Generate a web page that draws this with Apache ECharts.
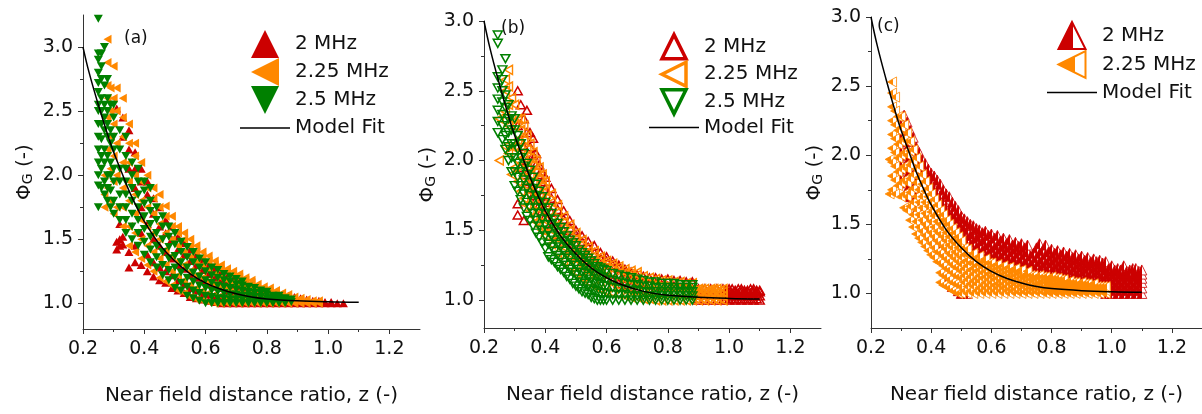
<!DOCTYPE html>
<html>
<head>
<meta charset="utf-8">
<script src="https://cdn.jsdelivr.net/npm/echarts@6/dist/echarts.min.js"></script>
<style>
html, body { margin: 0; background: #fff; }
#main { width: 1202px; height: 414px; }
</style>
</head>
<body>
<div id="main"></div>
<script>
// model fit curve
var zFit = [0.2, 0.22, 0.25, 0.28, 0.3, 0.33, 0.35, 0.38, 0.4, 0.45, 0.5, 0.55, 0.6, 0.65, 0.7, 0.75, 0.8, 0.9, 1.0, 1.1];
var phiFit = [3.0, 2.8, 2.55, 2.32, 2.18, 2.0, 1.88, 1.73, 1.64, 1.46, 1.33, 1.23, 1.16, 1.11, 1.075, 1.05, 1.035, 1.02, 1.012, 1.008];

var xTicks = [0.2, 0.4, 0.6, 0.8, 1.0, 1.2];
var xMinor = [0.3, 0.5, 0.7, 0.9, 1.1];
var yTicks = [1.0, 1.5, 2.0, 2.5, 3.0];
var yMinor = [1.25, 1.75, 2.25, 2.75];

// each series: columns of [z, [phi values]]
// panel (a)
var aRed = [
  [0.31, [1.42, 1.48, 2.52]], [0.32, [1.45, 1.5, 1.62]], [0.33, [1.46, 1.52, 2.3, 2.45]],
  [0.35, [1.28, 1.4, 2.05, 2.2, 2.35]], [0.37, [1.32, 1.45, 1.9, 2.05, 2.18]],
  [0.39, [1.3, 1.55, 1.75, 1.95, 2.05]], [0.41, [1.25, 1.38, 1.62, 1.85, 1.95]],
  [0.43, [1.21, 1.32, 1.5, 1.7, 1.82]], [0.45, [1.18, 1.28, 1.45, 1.6, 1.75]],
  [0.47, [1.16, 1.25, 1.4, 1.55, 1.65]], [0.49, [1.12, 1.22, 1.35, 1.5, 1.6]],
  [0.51, [1.1, 1.18, 1.3, 1.42, 1.52]], [0.53, [1.08, 1.15, 1.27, 1.38, 1.47]],
  [0.55, [1.05, 1.12, 1.22, 1.33, 1.42]], [0.57, [1.04, 1.1, 1.2, 1.3, 1.38]],
  [0.59, [1.03, 1.08, 1.18, 1.26, 1.34]], [0.61, [1.02, 1.07, 1.15, 1.23, 1.3]],
  [0.63, [1.01, 1.06, 1.13, 1.2, 1.27]], [0.65, [1.0, 1.05, 1.12, 1.18, 1.24]],
  [0.67, [1.0, 1.05, 1.1, 1.16, 1.21]], [0.69, [1.0, 1.04, 1.09, 1.14, 1.19]],
  [0.71, [1.0, 1.04, 1.08, 1.13, 1.17]], [0.73, [1.0, 1.03, 1.07, 1.12, 1.15]],
  [0.75, [1.0, 1.03, 1.07, 1.11, 1.14]], [0.77, [1.0, 1.03, 1.06, 1.1, 1.12]],
  [0.79, [1.0, 1.03, 1.06, 1.09, 1.11]], [0.81, [1.0, 1.02, 1.05, 1.08, 1.1]],
  [0.83, [1.0, 1.02, 1.05, 1.08]], [0.85, [1.0, 1.02, 1.04, 1.07]], [0.87, [1.0, 1.02, 1.04, 1.06]],
  [0.89, [1.0, 1.02, 1.05]], [0.91, [1.0, 1.02, 1.04]], [0.93, [1.0, 1.02, 1.03]],
  [0.95, [1.0, 1.02]], [0.97, [1.0, 1.02]], [0.99, [1.0, 1.01]], [1.01, [1.0, 1.01]],
  [1.03, [1.0]], [1.05, [1.0]]
];
var aOrange = [
  [0.27, [1.75, 1.85, 2.0]], [0.28, [1.9, 2.2, 2.45, 2.6, 2.7, 2.88, 3.06]],
  [0.29, [1.8, 2.05, 2.3, 2.5, 2.68]], [0.30, [1.7, 1.95, 2.15, 2.4, 2.6, 2.85]],
  [0.31, [1.75, 2.0, 2.25, 2.5, 2.68]], [0.33, [1.6, 1.75, 1.9, 2.1, 2.3, 2.45, 2.6]],
  [0.35, [1.45, 1.6, 1.8, 1.95, 2.1, 2.25, 2.4]], [0.37, [1.4, 1.55, 1.7, 1.85, 2.0, 2.15, 2.25]],
  [0.39, [1.35, 1.5, 1.65, 1.8, 1.95, 2.1]], [0.41, [1.3, 1.45, 1.6, 1.75, 1.9, 2.0]],
  [0.43, [1.25, 1.4, 1.55, 1.7, 1.82, 1.9]], [0.45, [1.2, 1.35, 1.5, 1.62, 1.75, 1.85]],
  [0.47, [1.17, 1.3, 1.42, 1.55, 1.68, 1.76]], [0.49, [1.14, 1.25, 1.37, 1.5, 1.6, 1.68]],
  [0.51, [1.1, 1.22, 1.33, 1.45, 1.55, 1.6]], [0.53, [1.08, 1.18, 1.3, 1.4, 1.5, 1.55]],
  [0.55, [1.05, 1.15, 1.25, 1.36, 1.45, 1.5]], [0.57, [1.03, 1.12, 1.22, 1.32, 1.4, 1.45]],
  [0.59, [1.02, 1.1, 1.2, 1.3, 1.36, 1.4]], [0.61, [1.01, 1.08, 1.17, 1.26, 1.33, 1.37]],
  [0.63, [1.0, 1.07, 1.15, 1.23, 1.3, 1.33]], [0.65, [1.0, 1.06, 1.13, 1.2, 1.26, 1.3]],
  [0.67, [1.0, 1.05, 1.12, 1.18, 1.24, 1.27]], [0.69, [1.0, 1.05, 1.1, 1.16, 1.22, 1.25]],
  [0.71, [1.0, 1.04, 1.09, 1.15, 1.2, 1.23]], [0.73, [1.0, 1.04, 1.08, 1.13, 1.18, 1.2]],
  [0.75, [1.0, 1.04, 1.08, 1.12, 1.16, 1.18]], [0.77, [1.0, 1.03, 1.07, 1.11, 1.15]],
  [0.79, [1.0, 1.03, 1.06, 1.1, 1.13]], [0.81, [1.0, 1.03, 1.06, 1.09, 1.12]],
  [0.83, [1.0, 1.03, 1.05, 1.08, 1.1]], [0.85, [1.0, 1.02, 1.05, 1.08]],
  [0.87, [1.0, 1.02, 1.04, 1.07]], [0.89, [1.0, 1.02, 1.05]], [0.91, [1.0, 1.02, 1.04]],
  [0.93, [1.0, 1.03]], [0.95, [1.0, 1.02]], [0.97, [1.0, 1.02]]
];
var aGreen = [
  [0.25, [1.75, 1.92, 2.0, 2.1, 2.2, 2.3, 2.4, 2.5, 2.55, 2.65, 2.72, 2.8, 2.9, 2.95, 3.22]],
  [0.26, [1.9, 2.05, 2.15, 2.28, 2.4, 2.5, 2.6, 2.75, 2.85, 2.95]],
  [0.27, [1.85, 1.95, 2.1, 2.2, 2.35, 2.45, 2.55, 2.7, 3.0]],
  [0.28, [1.8, 1.9, 2.0, 2.15, 2.3, 2.4, 2.5, 2.6, 2.75]],
  [0.29, [1.75, 1.88, 2.0, 2.1, 2.25, 2.35, 2.55]],
  [0.30, [1.7, 1.8, 1.95, 2.05, 2.2, 2.3, 2.45, 2.55]],
  [0.32, [1.65, 1.75, 1.85, 1.95, 2.05, 2.2, 2.35]],
  [0.34, [1.55, 1.65, 1.75, 1.85, 1.95, 2.05, 2.15, 2.3]],
  [0.36, [1.5, 1.6, 1.7, 1.8, 1.9, 2.0, 2.1]],
  [0.38, [1.45, 1.55, 1.65, 1.75, 1.85, 1.95, 2.05]],
  [0.40, [1.38, 1.48, 1.58, 1.68, 1.78, 1.88, 1.95]],
  [0.42, [1.32, 1.42, 1.52, 1.62, 1.72, 1.8, 1.9]],
  [0.44, [1.28, 1.36, 1.45, 1.55, 1.65, 1.75]],
  [0.46, [1.22, 1.3, 1.4, 1.5, 1.6, 1.68]],
  [0.48, [1.18, 1.26, 1.35, 1.44, 1.52, 1.6]],
  [0.50, [1.12, 1.2, 1.28, 1.37, 1.46, 1.55]],
  [0.52, [1.1, 1.16, 1.24, 1.32, 1.4, 1.48]],
  [0.54, [1.06, 1.13, 1.2, 1.28, 1.36, 1.44]],
  [0.56, [1.04, 1.1, 1.17, 1.24, 1.32, 1.4]],
  [0.58, [1.02, 1.08, 1.14, 1.21, 1.28, 1.35]],
  [0.60, [1.0, 1.06, 1.12, 1.18, 1.25, 1.32]],
  [0.62, [1.0, 1.05, 1.1, 1.16, 1.22, 1.28]],
  [0.64, [1.0, 1.04, 1.09, 1.14, 1.2, 1.26]],
  [0.66, [1.0, 1.04, 1.08, 1.13, 1.18, 1.23]],
  [0.68, [1.0, 1.03, 1.07, 1.12, 1.17, 1.21]],
  [0.70, [1.0, 1.03, 1.07, 1.11, 1.15, 1.19]],
  [0.72, [1.0, 1.03, 1.06, 1.1, 1.14, 1.17]],
  [0.74, [1.0, 1.03, 1.06, 1.09, 1.13]], [0.76, [1.0, 1.02, 1.05, 1.08, 1.12]],
  [0.78, [1.0, 1.02, 1.05, 1.08, 1.1]], [0.80, [1.0, 1.02, 1.04, 1.07, 1.09]],
  [0.82, [1.0, 1.02, 1.04, 1.06]], [0.84, [1.0, 1.02, 1.04, 1.06]],
  [0.86, [1.0, 1.02, 1.04]], [0.88, [1.01, 1.03]]
];

// panel (b)
var bRed = [
  [0.31, [1.61, 1.69, 2.25, 2.5]], [0.32, [1.95, 2.15, 2.4]], [0.33, [1.57, 1.9, 2.1, 2.3]],
  [0.34, [1.85, 2.0, 2.2, 2.36]], [0.35, [1.8, 1.95, 2.1, 2.2]], [0.36, [1.75, 1.9, 2.04, 2.16]],
  [0.37, [1.72, 1.85, 1.97, 2.05]], [0.38, [1.68, 1.8, 1.9, 1.97]], [0.39, [1.64, 1.75, 1.85, 1.92]],
  [0.40, [1.6, 1.7, 1.8, 1.88]], [0.42, [1.53, 1.63, 1.73, 1.8]], [0.44, [1.47, 1.56, 1.65, 1.72]],
  [0.46, [1.41, 1.5, 1.58, 1.64]], [0.48, [1.36, 1.44, 1.52, 1.57]], [0.50, [1.32, 1.4, 1.47, 1.5]],
  [0.52, [1.28, 1.36, 1.42, 1.46]], [0.54, [1.24, 1.32, 1.38, 1.42]], [0.56, [1.21, 1.28, 1.34, 1.39]],
  [0.58, [1.18, 1.25, 1.3, 1.34]], [0.60, [1.16, 1.22, 1.28, 1.31]], [0.62, [1.14, 1.2, 1.25, 1.28]],
  [0.64, [1.12, 1.18, 1.23, 1.25]], [0.66, [1.11, 1.16, 1.2, 1.22]], [0.68, [1.1, 1.15, 1.19, 1.2]],
  [0.70, [1.09, 1.14, 1.18]], [0.72, [1.08, 1.13, 1.17]], [0.74, [1.07, 1.12, 1.16]],
  [0.76, [1.07, 1.12, 1.16]], [0.78, [1.06, 1.11, 1.15]], [0.80, [1.06, 1.1, 1.15]],
  [0.82, [1.05, 1.1, 1.14]], [0.84, [1.05, 1.09, 1.14]], [0.86, [1.05, 1.09, 1.13]],
  [0.88, [1.04, 1.08, 1.13]], [0.90, [1.0, 1.04, 1.08]], [0.92, [1.0, 1.04, 1.08]],
  [0.94, [1.0, 1.04, 1.08]], [0.96, [1.0, 1.04, 1.08]], [0.98, [1.0, 1.04, 1.08]],
  [0.99, [1.01, 1.05, 1.07]], [1.00, [1.0, 1.03, 1.06, 1.08]], [1.01, [1.01, 1.05, 1.08]],
  [1.02, [1.0, 1.03, 1.06, 1.07]], [1.03, [1.01, 1.05, 1.08]], [1.04, [1.0, 1.03, 1.06, 1.08]],
  [1.05, [1.01, 1.05, 1.07]], [1.06, [1.0, 1.03, 1.06, 1.07]], [1.07, [1.01, 1.05, 1.08]],
  [1.08, [1.0, 1.03, 1.06, 1.08]], [1.09, [1.01, 1.05, 1.07]], [1.10, [1.0, 1.03, 1.06, 1.07]]
];
var bOrange = [
  [0.25, [2.0, 2.3]], [0.27, [2.1, 2.35, 2.5, 2.58]], [0.28, [2.05, 2.25, 2.4, 2.53, 2.65]],
  [0.29, [1.9, 2.1, 2.3, 2.45]], [0.30, [1.95, 2.1, 2.25, 2.4]], [0.31, [1.85, 2.0, 2.15, 2.3]],
  [0.32, [1.78, 1.92, 2.08, 2.22, 2.3]], [0.33, [1.73, 1.88, 2.02, 2.15, 2.25]],
  [0.34, [1.68, 1.82, 1.96, 2.08, 2.18]], [0.35, [1.64, 1.78, 1.9, 2.02, 2.12]],
  [0.36, [1.6, 1.72, 1.85, 1.97, 2.06]], [0.37, [1.56, 1.68, 1.8, 1.92, 2.0]],
  [0.38, [1.53, 1.65, 1.76, 1.87, 1.95]], [0.39, [1.5, 1.6, 1.72, 1.82, 1.9]],
  [0.40, [1.46, 1.57, 1.68, 1.78, 1.85]], [0.42, [1.4, 1.5, 1.6, 1.7, 1.76]],
  [0.44, [1.34, 1.44, 1.54, 1.63, 1.68]], [0.46, [1.28, 1.38, 1.48, 1.56, 1.6]],
  [0.48, [1.24, 1.33, 1.42, 1.5, 1.54]], [0.50, [1.2, 1.29, 1.37, 1.44, 1.48]],
  [0.52, [1.16, 1.25, 1.33, 1.4, 1.43]], [0.54, [1.13, 1.21, 1.29, 1.35, 1.38]],
  [0.56, [1.1, 1.18, 1.26, 1.32, 1.35]], [0.58, [1.08, 1.16, 1.23, 1.29, 1.31]],
  [0.60, [1.06, 1.14, 1.21, 1.26, 1.28]], [0.62, [1.05, 1.12, 1.19, 1.24, 1.26]],
  [0.64, [1.04, 1.1, 1.17, 1.22, 1.24]], [0.66, [1.03, 1.09, 1.15, 1.2, 1.22]],
  [0.68, [1.02, 1.08, 1.14, 1.19, 1.21]], [0.70, [1.02, 1.07, 1.13, 1.18, 1.2]],
  [0.72, [1.01, 1.07, 1.12, 1.17]], [0.74, [1.01, 1.06, 1.11, 1.16]], [0.76, [1.0, 1.06, 1.11, 1.15]],
  [0.78, [1.0, 1.05, 1.1, 1.14]], [0.80, [1.0, 1.05, 1.1, 1.14]], [0.82, [1.0, 1.05, 1.09, 1.13]],
  [0.84, [1.0, 1.05, 1.09, 1.13]], [0.86, [1.0, 1.05, 1.09, 1.12]], [0.88, [1.0, 1.04, 1.08, 1.12]],
  [0.89, [1.01, 1.05, 1.07]], [0.90, [1.0, 1.03, 1.06, 1.08]], [0.91, [1.01, 1.05, 1.08]],
  [0.92, [1.0, 1.03, 1.06, 1.08]], [0.93, [1.01, 1.05, 1.07]], [0.94, [1.0, 1.03, 1.06, 1.08]],
  [0.95, [1.01, 1.05, 1.08]], [0.96, [1.0, 1.03, 1.06, 1.08]], [0.97, [1.01, 1.05, 1.07]],
  [0.98, [1.0, 1.03, 1.06, 1.08]]
];
var bGreen = [
  [0.245, [2.2, 2.28, 2.36, 2.44, 2.52, 2.6, 2.84, 2.9]], [0.26, [2.15, 2.25, 2.33, 2.42, 2.5, 2.58, 2.65]],
  [0.27, [2.08, 2.18, 2.28, 2.38, 2.47, 2.73]], [0.28, [2.0, 2.1, 2.2, 2.3, 2.4]],
  [0.29, [1.92, 2.02, 2.12, 2.22, 2.32]], [0.30, [1.82, 1.92, 2.02, 2.12, 2.22, 2.3]],
  [0.31, [1.78, 1.88, 1.98, 2.08, 2.18]], [0.32, [1.72, 1.82, 1.92, 2.02, 2.12]],
  [0.33, [1.66, 1.76, 1.86, 1.96, 2.05]], [0.34, [1.6, 1.7, 1.8, 1.9, 1.98]],
  [0.35, [1.57, 1.66, 1.75, 1.84, 1.93]], [0.36, [1.53, 1.62, 1.71, 1.8, 1.88]],
  [0.37, [1.48, 1.57, 1.66, 1.75, 1.83]], [0.38, [1.45, 1.53, 1.62, 1.7, 1.78]],
  [0.39, [1.41, 1.5, 1.58, 1.66, 1.74]], [0.40, [1.37, 1.46, 1.54, 1.62, 1.7]],
  [0.41, [1.31, 1.4, 1.49, 1.58, 1.66]], [0.42, [1.29, 1.38, 1.46, 1.54, 1.62]],
  [0.43, [1.27, 1.35, 1.43, 1.51, 1.58]], [0.44, [1.24, 1.32, 1.4, 1.48, 1.55]],
  [0.45, [1.22, 1.3, 1.38, 1.45, 1.52]], [0.46, [1.2, 1.27, 1.35, 1.42, 1.49]],
  [0.47, [1.17, 1.25, 1.32, 1.4, 1.46]], [0.48, [1.15, 1.22, 1.3, 1.37, 1.43]],
  [0.49, [1.12, 1.2, 1.27, 1.34, 1.41]], [0.50, [1.1, 1.18, 1.25, 1.32, 1.39]],
  [0.51, [1.08, 1.15, 1.22, 1.3, 1.36]], [0.52, [1.06, 1.13, 1.2, 1.27, 1.34]],
  [0.53, [1.05, 1.12, 1.19, 1.25, 1.32]], [0.54, [1.04, 1.1, 1.17, 1.23, 1.3]],
  [0.55, [1.02, 1.08, 1.15, 1.21, 1.28]], [0.56, [1.01, 1.07, 1.13, 1.19, 1.26]],
  [0.57, [1.0, 1.06, 1.12, 1.18, 1.24]], [0.58, [1.0, 1.05, 1.11, 1.17, 1.23]],
  [0.59, [1.0, 1.05, 1.1, 1.16, 1.22]], [0.60, [1.0, 1.05, 1.1, 1.15, 1.21]],
  [0.62, [1.0, 1.04, 1.09, 1.14, 1.19]], [0.64, [1.0, 1.04, 1.08, 1.13, 1.18]],
  [0.66, [1.0, 1.04, 1.08, 1.12, 1.17]], [0.68, [1.0, 1.03, 1.07, 1.11, 1.16]],
  [0.70, [1.0, 1.03, 1.07, 1.11, 1.15]], [0.72, [1.0, 1.03, 1.06, 1.1, 1.14]],
  [0.74, [1.0, 1.03, 1.06, 1.1, 1.13]], [0.76, [1.0, 1.03, 1.06, 1.09, 1.13]],
  [0.78, [1.0, 1.03, 1.06, 1.09, 1.12]], [0.80, [1.0, 1.03, 1.06, 1.09, 1.12]],
  [0.82, [1.0, 1.03, 1.06, 1.09, 1.12]], [0.84, [1.0, 1.03, 1.06, 1.09, 1.11]],
  [0.86, [1.0, 1.03, 1.06, 1.09, 1.11]], [0.88, [1.0, 1.03, 1.06, 1.09, 1.11]]
];

// panel (c)
var cRed = [
  [0.30, [1.85, 1.95, 2.05, 2.15, 2.25]], [0.31, [1.8, 1.9, 2.0, 2.1, 2.2, 2.29]],
  [0.32, [1.75, 1.85, 1.95, 2.05, 2.15, 2.24]], [0.33, [1.7, 1.8, 1.9, 2.0, 2.1, 2.18]],
  [0.34, [1.65, 1.75, 1.85, 1.95, 2.04, 2.13]], [0.35, [1.6, 1.7, 1.8, 1.9, 1.98, 2.06]],
  [0.36, [1.55, 1.65, 1.75, 1.85, 1.94, 2.02]], [0.37, [1.52, 1.62, 1.72, 1.81, 1.9, 1.97]],
  [0.38, [1.49, 1.58, 1.68, 1.77, 1.86, 1.94]], [0.39, [1.46, 1.55, 1.64, 1.73, 1.82, 1.9]],
  [0.40, [1.43, 1.52, 1.61, 1.7, 1.79, 1.87]], [0.41, [1.4, 1.49, 1.58, 1.67, 1.76, 1.85]],
  [0.42, [1.38, 1.46, 1.55, 1.64, 1.73, 1.82]], [0.43, [1.35, 1.43, 1.52, 1.61, 1.7, 1.79]],
  [0.44, [1.32, 1.4, 1.49, 1.58, 1.66, 1.75]], [0.45, [1.1, 1.3, 1.38, 1.46, 1.55, 1.63, 1.72]],
  [0.46, [1.14, 1.28, 1.36, 1.44, 1.52, 1.6, 1.7]], [0.47, [1.05, 1.26, 1.34, 1.42, 1.5, 1.58, 1.66]],
  [0.48, [1.24, 1.32, 1.4, 1.48, 1.56, 1.63]], [0.49, [1.02, 1.22, 1.3, 1.38, 1.46, 1.54, 1.6]],
  [0.50, [1.0, 1.2, 1.28, 1.36, 1.44, 1.51, 1.56]], [0.51, [1.24, 1.32, 1.4, 1.48, 1.54]],
  [0.52, [1.0, 1.18, 1.25, 1.32, 1.39, 1.46, 1.52]], [0.53, [1.2, 1.28, 1.35, 1.42, 1.5]],
  [0.54, [1.16, 1.23, 1.3, 1.37, 1.43, 1.49]], [0.55, [1.19, 1.26, 1.33, 1.4, 1.47]],
  [0.56, [1.14, 1.21, 1.28, 1.35, 1.41, 1.46]], [0.57, [1.17, 1.24, 1.31, 1.38, 1.44]],
  [0.58, [1.13, 1.2, 1.26, 1.33, 1.39, 1.45]], [0.59, [1.16, 1.22, 1.29, 1.35, 1.42]],
  [0.60, [1.12, 1.18, 1.25, 1.31, 1.37, 1.43]], [0.61, [1.15, 1.21, 1.27, 1.33, 1.4]],
  [0.62, [1.11, 1.17, 1.23, 1.29, 1.35, 1.42]], [0.63, [1.14, 1.2, 1.26, 1.32, 1.38]],
  [0.64, [1.1, 1.16, 1.22, 1.28, 1.34, 1.4]], [0.65, [1.13, 1.19, 1.25, 1.31, 1.36]],
  [0.66, [1.09, 1.15, 1.21, 1.27, 1.33, 1.39]], [0.67, [1.12, 1.18, 1.24, 1.3, 1.35]],
  [0.68, [1.08, 1.14, 1.2, 1.26, 1.32, 1.37]], [0.69, [1.11, 1.17, 1.23, 1.29, 1.34]],
  [0.70, [1.08, 1.13, 1.19, 1.25, 1.31, 1.36]], [0.71, [1.1, 1.16, 1.22, 1.28, 1.33]],
  [0.72, [1.07, 1.13, 1.18, 1.24, 1.3, 1.35]], [0.73, [1.1, 1.15, 1.21, 1.27]],
  [0.74, [1.07, 1.12, 1.18, 1.23, 1.29]], [0.75, [1.09, 1.15, 1.2, 1.26, 1.33]],
  [0.76, [1.06, 1.12, 1.17, 1.23, 1.29, 1.36]], [0.77, [1.09, 1.14, 1.2, 1.25, 1.31]],
  [0.78, [1.06, 1.11, 1.17, 1.22, 1.28, 1.35]], [0.79, [1.08, 1.14, 1.19, 1.24, 1.3]],
  [0.80, [1.06, 1.11, 1.16, 1.22, 1.27, 1.32]], [0.81, [1.08, 1.13, 1.19, 1.24, 1.29]],
  [0.82, [1.05, 1.1, 1.16, 1.21, 1.26, 1.31]], [0.83, [1.08, 1.13, 1.18, 1.23, 1.28]],
  [0.84, [1.05, 1.1, 1.15, 1.2, 1.25, 1.3]], [0.85, [1.07, 1.12, 1.17, 1.22, 1.27]],
  [0.86, [1.05, 1.1, 1.15, 1.2, 1.25, 1.29]], [0.87, [1.07, 1.12, 1.17, 1.22, 1.26]],
  [0.88, [1.04, 1.09, 1.14, 1.19, 1.24, 1.28]], [0.89, [1.07, 1.12, 1.16, 1.21, 1.25]],
  [0.90, [1.04, 1.09, 1.14, 1.19, 1.23, 1.27]], [0.91, [1.06, 1.11, 1.16, 1.2, 1.24]],
  [0.92, [1.04, 1.09, 1.13, 1.18, 1.22, 1.26]], [0.93, [1.06, 1.11, 1.15, 1.2, 1.23]],
  [0.94, [1.04, 1.08, 1.13, 1.18, 1.22, 1.25]], [0.95, [1.06, 1.1, 1.15, 1.19, 1.23]],
  [0.96, [1.03, 1.08, 1.13, 1.17, 1.21, 1.24]], [0.97, [1.05, 1.1, 1.14, 1.19, 1.22]],
  [0.98, [1.0, 1.04, 1.08, 1.12, 1.17, 1.2, 1.23]], [0.99, [1.02, 1.06, 1.1, 1.14, 1.18]],
  [1.00, [1.0, 1.04, 1.08, 1.12, 1.16, 1.2]], [1.01, [1.02, 1.06, 1.1, 1.14, 1.17]],
  [1.02, [1.0, 1.04, 1.08, 1.12, 1.16, 1.18]], [1.03, [1.02, 1.06, 1.1, 1.14, 1.17]],
  [1.04, [1.0, 1.04, 1.08, 1.12, 1.15, 1.2]], [1.05, [1.02, 1.06, 1.1, 1.13, 1.16]],
  [1.06, [1.0, 1.04, 1.08, 1.12, 1.15, 1.17]], [1.07, [1.02, 1.06, 1.1, 1.13, 1.18]],
  [1.08, [1.0, 1.04, 1.08, 1.12, 1.15, 1.18]], [1.09, [1.02, 1.06, 1.1, 1.13, 1.16]],
  [1.10, [1.0, 1.04, 1.08, 1.11, 1.14, 1.17]]
];
var cOrange = [
  [0.262, [1.72, 1.97]], [0.27, [1.75, 1.85, 1.95, 2.05, 2.15, 2.25, 2.35, 2.45, 2.53]],
  [0.28, [1.72, 1.82, 1.92, 2.02, 2.12, 2.22, 2.32, 2.42]], [0.29, [1.78, 1.88, 1.98, 2.08, 2.18, 2.28]],
  [0.30, [1.7, 1.8, 1.9, 2.0, 2.1, 2.2, 2.28]], [0.31, [1.62, 1.72, 1.82, 1.92, 2.02, 2.12, 2.22]],
  [0.32, [1.6, 1.7, 1.8, 1.9, 2.0, 2.1, 2.16]], [0.33, [1.53, 1.63, 1.73, 1.83, 1.93, 2.03, 2.1]],
  [0.34, [1.48, 1.57, 1.66, 1.76, 1.86, 1.96, 2.04]], [0.35, [1.43, 1.52, 1.61, 1.7, 1.8, 1.9, 1.98]],
  [0.36, [1.4, 1.48, 1.57, 1.66, 1.75, 1.84, 1.92]], [0.37, [1.37, 1.45, 1.53, 1.62, 1.7, 1.79, 1.86]],
  [0.38, [1.34, 1.42, 1.5, 1.58, 1.66, 1.74, 1.81]], [0.39, [1.31, 1.39, 1.47, 1.55, 1.63, 1.7, 1.76]],
  [0.40, [1.28, 1.36, 1.44, 1.52, 1.59, 1.66, 1.72]], [0.41, [1.26, 1.33, 1.41, 1.48, 1.56, 1.62, 1.68]],
  [0.42, [1.23, 1.3, 1.38, 1.45, 1.52, 1.58, 1.64]],
  [0.43, [1.08, 1.15, 1.22, 1.29, 1.36, 1.43, 1.5, 1.56, 1.6]],
  [0.44, [1.06, 1.13, 1.2, 1.27, 1.34, 1.41, 1.47, 1.53, 1.57]],
  [0.45, [1.05, 1.12, 1.18, 1.25, 1.32, 1.38, 1.44, 1.5, 1.53]],
  [0.46, [1.04, 1.1, 1.17, 1.23, 1.29, 1.35, 1.41, 1.46, 1.5]],
  [0.47, [1.02, 1.08, 1.15, 1.21, 1.27, 1.33, 1.38, 1.43, 1.47]],
  [0.48, [1.01, 1.07, 1.13, 1.19, 1.25, 1.3, 1.36, 1.4, 1.44]],
  [0.49, [1.0, 1.06, 1.12, 1.18, 1.23, 1.28, 1.33, 1.38, 1.41]],
  [0.50, [1.0, 1.05, 1.11, 1.16, 1.21, 1.26, 1.31, 1.35, 1.38]],
  [0.51, [1.02, 1.08, 1.13, 1.18, 1.23, 1.28, 1.33]],
  [0.52, [1.0, 1.05, 1.1, 1.15, 1.2, 1.24, 1.28, 1.32]], [0.53, [1.02, 1.07, 1.12, 1.17, 1.22, 1.27]],
  [0.54, [1.0, 1.05, 1.09, 1.14, 1.18, 1.22, 1.26, 1.29]], [0.55, [1.02, 1.07, 1.11, 1.16, 1.2, 1.25]],
  [0.56, [1.0, 1.04, 1.09, 1.13, 1.17, 1.21, 1.24, 1.27]], [0.57, [1.02, 1.06, 1.11, 1.15, 1.19, 1.23]],
  [0.58, [1.0, 1.04, 1.08, 1.12, 1.16, 1.2, 1.23, 1.25]], [0.59, [1.02, 1.06, 1.1, 1.14, 1.18, 1.22]],
  [0.60, [1.0, 1.04, 1.08, 1.12, 1.15, 1.19, 1.22]], [0.61, [1.02, 1.06, 1.1, 1.13, 1.17, 1.2]],
  [0.62, [1.0, 1.04, 1.07, 1.11, 1.15, 1.18, 1.21]], [0.63, [1.02, 1.06, 1.09, 1.13, 1.16, 1.19]],
  [0.64, [1.0, 1.04, 1.07, 1.11, 1.14, 1.17, 1.2]], [0.65, [1.02, 1.05, 1.09, 1.12, 1.15, 1.18]],
  [0.66, [1.0, 1.03, 1.07, 1.1, 1.13, 1.16, 1.19]], [0.67, [1.02, 1.05, 1.08, 1.12, 1.15, 1.17]],
  [0.68, [1.0, 1.03, 1.07, 1.1, 1.13, 1.16, 1.18]], [0.69, [1.01, 1.05, 1.08, 1.11, 1.14, 1.16]],
  [0.70, [1.0, 1.03, 1.06, 1.09, 1.12, 1.15, 1.17]], [0.71, [1.01, 1.05, 1.08, 1.11, 1.13]],
  [0.72, [1.0, 1.03, 1.06, 1.09, 1.12, 1.14, 1.16]], [0.73, [1.01, 1.04, 1.07, 1.1, 1.13]],
  [0.74, [1.0, 1.03, 1.06, 1.09, 1.11, 1.13]], [0.75, [1.01, 1.04, 1.07, 1.1, 1.12]],
  [0.76, [1.0, 1.03, 1.06, 1.08, 1.11, 1.13]], [0.77, [1.01, 1.04, 1.07, 1.09, 1.12]],
  [0.78, [1.0, 1.03, 1.05, 1.08, 1.1, 1.12]], [0.79, [1.01, 1.04, 1.07, 1.09, 1.11]],
  [0.80, [1.0, 1.03, 1.05, 1.08, 1.1, 1.12]], [0.81, [1.01, 1.04, 1.06, 1.09, 1.11]],
  [0.82, [1.0, 1.02, 1.05, 1.07, 1.1, 1.11]], [0.83, [1.01, 1.04, 1.06, 1.08, 1.1]],
  [0.84, [1.0, 1.02, 1.05, 1.07, 1.09, 1.1]], [0.85, [1.01, 1.03, 1.06, 1.08]],
  [0.86, [1.0, 1.02, 1.05, 1.07, 1.09]], [0.87, [1.01, 1.03, 1.06, 1.08]],
  [0.88, [1.0, 1.02, 1.04, 1.06, 1.08]], [0.89, [1.01, 1.03, 1.05, 1.07]],
  [0.90, [1.0, 1.02, 1.04, 1.06, 1.08]], [0.91, [1.01, 1.03, 1.05, 1.07]],
  [0.92, [1.0, 1.02, 1.04, 1.06, 1.07]], [0.93, [1.01, 1.03, 1.05, 1.06]],
  [0.94, [1.0, 1.02, 1.04, 1.06, 1.07]], [0.95, [1.01, 1.03, 1.05]],
  [0.96, [1.0, 1.02, 1.04, 1.05]], [0.97, [1.01, 1.03, 1.05]], [0.98, [1.0, 1.02, 1.04, 1.05]]
];

var RED = '#cc0000', ORANGE = '#ff8800', GREEN = '#008000';
var FONT = 'DejaVu Sans';
var TRI_UP = 'path://M0,10L5,0L10,10Z';
var TRI_LEFT = 'path://M0,5L10,0L10,10Z';
var TRI_DOWN = 'path://M0,0L10,0L5,10Z';

// legend icon for the fit: a thin bar, padded with empty points so the row keeps its height
function lineIcon(h) {
  var m = h / 2;
  return 'path://M0,0L0,0Z M0,' + (m - 0.75) + 'L50,' + (m - 0.75) + 'L50,' + (m + 0.75) + 'L0,' + (m + 0.75) + 'Z M50,' + h + 'L50,' + h + 'Z';
}

function toPoints(cols) {
  var out = [];
  cols.forEach(function (c) {
    c[1].forEach(function (p) { out.push([c[0], p]); });
  });
  return out;
}
var fitPoints = zFit.map(function (z, i) { return [z, phiFit[i]]; });

function halfFill(color, stop) {
  return {
    type: 'linear', x: 0, y: 0, x2: 1, y2: 0,
    colorStops: [
      { offset: 0, color: color }, { offset: stop, color: color },
      { offset: stop, color: '#fff' }, { offset: 1, color: '#fff' }
    ]
  };
}

var grids = [
  { left: 83, top: 15, width: 337, height: 314 },
  { left: 484, top: 21, width: 337, height: 307 },
  { left: 871, top: 17, width: 336, height: 311 }
];
var yRanges = [[0.8, 3.25], [0.8, 3.0], [0.75, 3.0]];
var yNameGap = [48, 46, 46];

var fmt = function (v) { return v.toFixed(1); };
var xAxes = [], yAxes = [];
grids.forEach(function (g, i) {
  xAxes.push({
    gridIndex: i, type: 'value', min: 0.2, max: 1.3, position: 'bottom',
    name: 'Near field distance ratio, z (-)', nameLocation: 'middle', nameGap: 57,
    nameTextStyle: { fontSize: 20, fontFamily: FONT, color: '#111' },
    axisLine: { lineStyle: { color: '#333', width: 1 } },
    axisTick: { length: 5, customValues: xTicks, lineStyle: { color: '#333' } },
    axisLabel: { customValues: xTicks, formatter: fmt, fontSize: 19, fontFamily: FONT, color: '#111', margin: 11 },
    splitLine: { show: false }
  });
  xAxes.push({
    gridIndex: i, type: 'value', min: 0.2, max: 1.3, position: 'bottom',
    axisLine: { show: false },
    axisTick: { length: 3, customValues: xMinor, lineStyle: { color: '#333' } },
    axisLabel: { show: false }, splitLine: { show: false }
  });
  yAxes.push({
    gridIndex: i, type: 'value', min: yRanges[i][0], max: yRanges[i][1], position: 'left',
    name: '{p|Φ}{g|G}{p| (-)}', nameLocation: 'middle', nameGap: yNameGap[i],
    nameTextStyle: {
      color: '#111',
      rich: {
        p: { fontSize: 20, fontFamily: FONT, color: '#111' },
        g: { fontSize: 14, fontFamily: FONT, color: '#111', verticalAlign: 'bottom' }
      }
    },
    axisLine: { show: true, lineStyle: { color: '#333', width: 1 } },
    axisTick: { show: true, length: 5, customValues: yTicks, lineStyle: { color: '#333' } },
    axisLabel: { customValues: yTicks, formatter: fmt, fontSize: 19, fontFamily: FONT, color: '#111', margin: 10 },
    splitLine: { show: false }
  });
  yAxes.push({
    gridIndex: i, type: 'value', min: yRanges[i][0], max: yRanges[i][1], position: 'left',
    axisLine: { show: false },
    axisTick: { show: true, length: 3, customValues: yMinor, lineStyle: { color: '#333' } },
    axisLabel: { show: false }, splitLine: { show: false }
  });
});

function scatter(name, cols, gi, symbol, size, style) {
  style.opacity = 1;
  return {
    type: 'scatter', name: name, xAxisIndex: gi * 2, yAxisIndex: gi * 2,
    data: toPoints(cols), symbol: symbol, symbolSize: size,
    itemStyle: style, silent: true
  };
}
function fit(name, gi) {
  return {
    type: 'line', name: name, xAxisIndex: gi * 2, yAxisIndex: gi * 2,
    data: fitPoints, symbol: 'none', smooth: 0.4,
    lineStyle: { color: '#000', width: 1.5 }, itemStyle: { color: '#000' }, z: 5, silent: true
  };
}
var hollow = function (c) { return { color: 'rgba(255,255,255,0)', borderColor: c, borderWidth: 1.5 }; };

var series = [
  scatter('2 MHz|a', aRed, 0, TRI_UP, [9, 8], { color: RED }),
  scatter('2.25 MHz|a', aOrange, 0, TRI_LEFT, [8, 9], { color: ORANGE }),
  scatter('2.5 MHz|a', aGreen, 0, TRI_DOWN, [9, 8], { color: GREEN }),
  fit('Model Fit|a', 0),
  scatter('2 MHz|b', bRed, 1, TRI_UP, [9, 8], hollow(RED)),
  scatter('2.25 MHz|b', bOrange, 1, TRI_LEFT, [8, 9], hollow(ORANGE)),
  scatter('2.5 MHz|b', bGreen, 1, TRI_DOWN, [9, 8], hollow(GREEN)),
  fit('Model Fit|b', 1),
  scatter('2 MHz|c', cRed, 2, TRI_UP, [10, 10], { color: halfFill(RED, 0.55), borderColor: RED, borderWidth: 0.8 }),
  scatter('2.25 MHz|c', cOrange, 2, TRI_LEFT, [9, 10], { color: halfFill(ORANGE, 0.6), borderColor: ORANGE, borderWidth: 0.8 }),
  fit('Model Fit|c', 2)
];

var legendText = { fontSize: 20, fontFamily: FONT, color: '#111' };
var legendFmt = function (n) { return n.split('|')[0]; };
function legend(left, top, h, items) {
  return {
    orient: 'vertical', left: left, top: top, padding: 0, itemWidth: 50, itemHeight: h, itemGap: 0,
    selectedMode: false, formatter: legendFmt, textStyle: legendText, data: items
  };
}

var option = {
  animation: false,
  backgroundColor: '#fff',
  grid: grids,
  xAxis: xAxes,
  yAxis: yAxes,
  legend: [
    legend(240, 30, 28, [
      { name: '2 MHz|a', icon: TRI_UP }, { name: '2.25 MHz|a', icon: TRI_LEFT },
      { name: '2.5 MHz|a', icon: TRI_DOWN }, { name: 'Model Fit|a', icon: lineIcon(28) }
    ]),
    legend(649, 33, 24, [
      { name: '2 MHz|b', icon: TRI_UP, itemStyle: { borderWidth: 3.5 } },
      { name: '2.25 MHz|b', icon: TRI_LEFT, itemStyle: { borderWidth: 3.5 } },
      { name: '2.5 MHz|b', icon: TRI_DOWN, itemStyle: { borderWidth: 3.5 } },
      { name: 'Model Fit|b', icon: lineIcon(24) }
    ]),
    legend(1047, 21, 27, [
      { name: '2 MHz|c', icon: TRI_UP, itemStyle: { borderWidth: 2 } },
      { name: '2.25 MHz|c', icon: TRI_LEFT, itemStyle: { borderWidth: 2 } },
      { name: 'Model Fit|c', icon: lineIcon(27) }
    ])
  ],
  graphic: [
    { type: 'text', left: 124, top: 30, style: { text: '(a)', font: '17px "DejaVu Sans"', fill: '#111' } },
    { type: 'text', left: 501, top: 20, style: { text: '(b)', font: '17px "DejaVu Sans"', fill: '#111' } },
    { type: 'text', left: 877, top: 18, style: { text: '(c)', font: '17px "DejaVu Sans"', fill: '#111' } }
  ],
  series: series
};

var myChart = echarts.init(document.getElementById('main'));
myChart.setOption(option);
</script>
</body>
</html>
